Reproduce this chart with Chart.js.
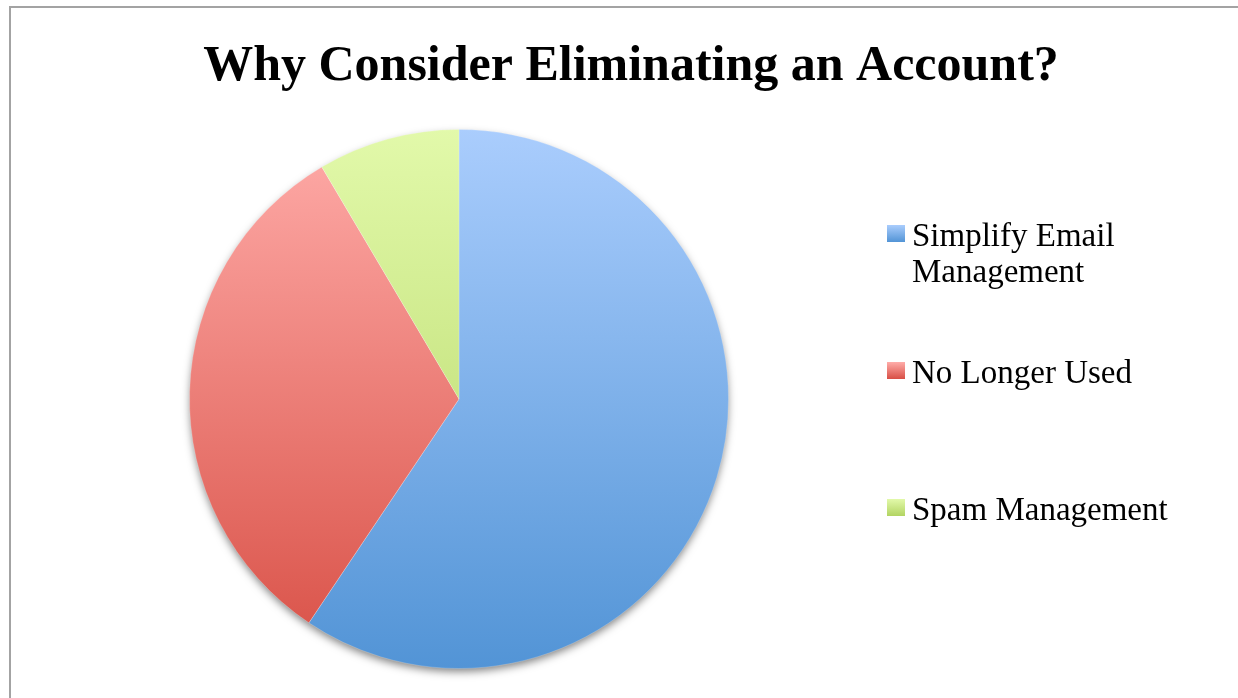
<!DOCTYPE html>
<html>
<head>
<meta charset="utf-8">
<title>Why Consider Eliminating an Account?</title>
<script src="https://cdn.jsdelivr.net/npm/chart.js@4.4.1/dist/chart.umd.min.js"></script>
<style>
  html, body { margin: 0; padding: 0; background: #ffffff; }
  #wrap { width: 1238px; height: 698px; position: relative; }
  canvas { display: block; }
</style>
</head>
<body>
<div id="wrap"><canvas id="chart" width="1238" height="698"></canvas></div>
<script>
// Survey answers: reasons for dropping an email account (share of responses, %)
const chartTitle = 'Why Consider Eliminating an Account?';
const categories = ['Simplify Email Management', 'No Longer Used', 'Spam Management'];
const shares = [59.4, 32.1, 8.5];

// Each slice is shaded light at the top to darker at the bottom
const gradientTop = ['#aacdfd', '#ffaca9', '#e2f9aa'];
const gradientBottom = ['#5294d6', '#d84f45', '#b2d462'];

const FONT = '"Liberation Serif", "Times New Roman", serif';

function sliceFill(context) {
  const i = context.dataIndex;
  const chart = context.chart;
  const area = chart.chartArea;
  if (!area) return gradientTop[i];
  const g = chart.ctx.createLinearGradient(0, area.top, 0, area.bottom);
  g.addColorStop(0, gradientTop[i]);
  g.addColorStop(1, gradientBottom[i]);
  return g;
}

// Outer frame, soft drop shadow under the pie, title and the legend at the right
const decorations = {
  id: 'decorations',
  beforeDraw(chart) {
    const ctx = chart.ctx;
    ctx.save();
    ctx.fillStyle = '#ffffff';
    ctx.fillRect(0, 0, chart.width, chart.height);
    ctx.strokeStyle = '#a3a3a3';
    ctx.lineWidth = 2;
    ctx.beginPath();
    ctx.moveTo(10, chart.height);
    ctx.lineTo(10, 7);
    ctx.lineTo(chart.width, 7);
    ctx.stroke();
    ctx.restore();
  },
  beforeDatasetsDraw(chart) {
    const arc = chart.getDatasetMeta(0).data[0];
    if (!arc) return;
    const ctx = chart.ctx;
    ctx.save();
    ctx.shadowColor = 'rgba(0,0,0,0.5)';
    ctx.shadowBlur = 9;
    ctx.shadowOffsetX = 0;
    ctx.shadowOffsetY = 4;
    ctx.fillStyle = '#ffffff';
    ctx.beginPath();
    ctx.arc(arc.x, arc.y, arc.outerRadius - 1, 0, Math.PI * 2);
    ctx.fill();
    ctx.restore();
  },
  afterDraw(chart) {
    const ctx = chart.ctx;
    ctx.save();
    // title
    ctx.fillStyle = '#000000';
    ctx.font = 'bold 50px ' + FONT;
    ctx.textAlign = 'center';
    ctx.textBaseline = 'alphabetic';
    ctx.fillText(chartTitle, 631, 80);

    // legend
    ctx.font = '33px ' + FONT;
    ctx.textAlign = 'left';
    const maxTextWidth = 280;
    const boxX = 887, textX = 912, firstBaseline = 246, itemStep = 137, lineStep = 36;
    categories.forEach((label, i) => {
      const words = label.split(' ');
      const lines = [];
      let line = '';
      words.forEach(w => {
        const test = line ? line + ' ' + w : w;
        if (line && ctx.measureText(test).width > maxTextWidth) {
          lines.push(line);
          line = w;
        } else {
          line = test;
        }
      });
      lines.push(line);
      const base = firstBaseline + i * itemStep;
      const boxTop = base - 21;
      const g = ctx.createLinearGradient(0, boxTop, 0, boxTop + 17);
      g.addColorStop(0, gradientTop[i]);
      g.addColorStop(1, gradientBottom[i]);
      ctx.fillStyle = g;
      ctx.fillRect(boxX, boxTop, 18, 17);
      ctx.fillStyle = '#000000';
      lines.forEach((t, k) => ctx.fillText(t, textX, base + k * lineStep));
    });
    ctx.restore();
  }
};

new Chart(document.getElementById('chart'), {
  type: 'pie',
  data: {
    labels: categories,
    datasets: [{
      data: shares,
      backgroundColor: sliceFill,
      borderColor: 'rgba(255,255,255,0.2)',
      borderWidth: 1,
      hoverOffset: 0
    }]
  },
  options: {
    responsive: false,
    animation: false,
    devicePixelRatio: 1,
    layout: { padding: { left: 189, right: 509, top: 129, bottom: 29 } },
    plugins: {
      legend: { display: false },
      title: { display: false },
      tooltip: { enabled: false }
    }
  },
  plugins: [decorations]
});
</script>
</body>
</html>
